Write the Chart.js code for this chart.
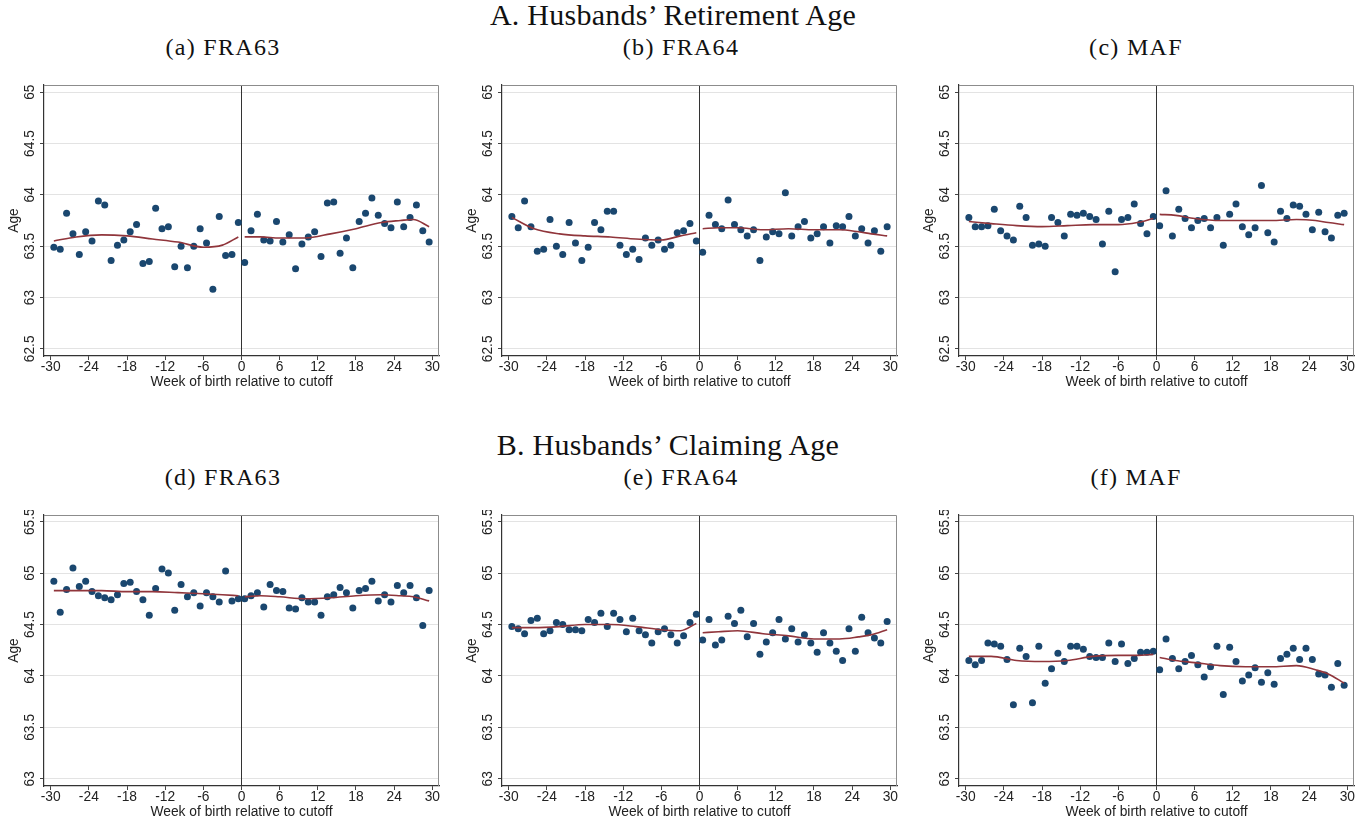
<!DOCTYPE html>
<html>
<head>
<meta charset="utf-8">
<script src="https://cdn.jsdelivr.net/npm/chart.js@4.4.1/dist/chart.umd.min.js"></script>
<style>
  body { margin: 0; background: #fff; width: 1372px; height: 824px; position: relative; overflow: hidden; }
  .ttl { position: absolute; font-family: "Liberation Serif", "Times New Roman", serif; color: #111;
         white-space: nowrap; transform: translateX(-50%); line-height: 1; }
  .big { font-size: 30px; letter-spacing: 0.25px; }
  .sub { font-size: 24px; letter-spacing: 1.3px; }
  canvas { position: absolute; }
</style>
</head>
<body>
<div class="ttl big" style="left:673px;top:0px">A. Husbands’ Retirement Age</div>
<div class="ttl sub" style="left:223px;top:35px">(a) FRA63</div>
<div class="ttl sub" style="left:681px;top:35px">(b) FRA64</div>
<div class="ttl sub" style="left:1136px;top:35px">(c) MAF</div>

<div class="ttl big" style="left:668px;top:430px">B. Husbands’ Claiming Age</div>
<div class="ttl sub" style="left:223px;top:465px">(d) FRA63</div>
<div class="ttl sub" style="left:681px;top:465px">(e) FRA64</div>
<div class="ttl sub" style="left:1136px;top:465px">(f) MAF</div>

<canvas id="pA" width="445" height="310" style="left:0px;top:80px"></canvas>
<canvas id="pB" width="445" height="310" style="left:458px;top:80px"></canvas>
<canvas id="pC" width="445" height="310" style="left:915px;top:80px"></canvas>
<canvas id="pD" width="445" height="310" style="left:0px;top:510px"></canvas>
<canvas id="pE" width="445" height="310" style="left:458px;top:510px"></canvas>
<canvas id="pF" width="445" height="310" style="left:915px;top:510px"></canvas>

<script>
// ===== DATA =====
const WEEKS = [-29.5, -28.5, -27.5, -26.5, -25.5, -24.5, -23.5, -22.5, -21.5, -20.5,
  -19.5, -18.5, -17.5, -16.5, -15.5, -14.5, -13.5, -12.5, -11.5, -10.5,
  -9.5, -8.5, -7.5, -6.5, -5.5, -4.5, -3.5, -2.5, -1.5, -0.5,
  0.5, 1.5, 2.5, 3.5, 4.5, 5.5, 6.5, 7.5, 8.5, 9.5,
  10.5, 11.5, 12.5, 13.5, 14.5, 15.5, 16.5, 17.5, 18.5, 19.5,
  20.5, 21.5, 22.5, 23.5, 24.5, 25.5, 26.5, 27.5, 28.5, 29.5];
const FIT_X_LEFT = [-29.5, -26, -22, -18, -14, -10, -6, -3, -0.5];
const FIT_X_RIGHT = [0.5, 3, 6, 10, 14, 18, 22, 25, 27, 29.5];
const CUTOFF = 0;

const X_TICKS = [-30, -24, -18, -12, -6, 0, 6, 12, 18, 24, 30];
const Y_TICKS_TOP = [62.5, 63, 63.5, 64, 64.5, 65];
const Y_TICKS_BOTTOM = [63, 63.5, 64, 64.5, 65, 65.5];

// A. retirement age
const RET_FRA63 = [63.49, 63.47, 63.82, 63.62, 63.42, 63.64, 63.55, 63.94, 63.90, 63.36,
  63.51, 63.56, 63.64, 63.71, 63.33, 63.35, 63.87, 63.67, 63.69, 63.30,
  63.50, 63.29, 63.50, 63.67, 63.53, 63.08, 63.79, 63.41, 63.42, 63.73,
  63.34, 63.65, 63.81, 63.56, 63.55, 63.74, 63.54, 63.61, 63.28, 63.52,
  63.59, 63.64, 63.40, 63.92, 63.93, 63.43, 63.58, 63.29, 63.74, 63.82,
  63.97, 63.80, 63.72, 63.68, 63.93, 63.69, 63.78, 63.90, 63.65, 63.54];
const RET_FRA63_FIT_L = [63.55, 63.59, 63.61, 63.60, 63.57, 63.54, 63.49, 63.51, 63.59];
const RET_FRA63_FIT_R = [63.59, 63.59, 63.58, 63.58, 63.62, 63.67, 63.73, 63.75, 63.76, 63.69];

const RET_FRA64 = [63.79, 63.68, 63.94, 63.69, 63.45, 63.47, 63.76, 63.50, 63.42, 63.73,
  63.53, 63.36, 63.49, 63.73, 63.66, 63.84, 63.84, 63.51, 63.42, 63.47,
  63.37, 63.58, 63.51, 63.56, 63.47, 63.51, 63.63, 63.65, 63.72, 63.55,
  63.44, 63.80, 63.71, 63.67, 63.95, 63.71, 63.66, 63.60, 63.66, 63.36,
  63.59, 63.64, 63.62, 64.02, 63.60, 63.69, 63.74, 63.58, 63.62, 63.69,
  63.53, 63.70, 63.69, 63.79, 63.60, 63.67, 63.53, 63.65, 63.45, 63.69];
const RET_FRA64_FIT_L = [63.78, 63.67, 63.62, 63.60, 63.59, 63.57, 63.56, 63.60, 63.63];
const RET_FRA64_FIT_R = [63.67, 63.68, 63.68, 63.66, 63.67, 63.66, 63.66, 63.64, 63.62, 63.60];

const RET_MAF = [63.78, 63.69, 63.69, 63.70, 63.86, 63.65, 63.60, 63.56, 63.89, 63.78,
  63.51, 63.52, 63.50, 63.78, 63.73, 63.60, 63.81, 63.80, 63.82, 63.79,
  63.76, 63.52, 63.84, 63.25, 63.76, 63.78, 63.91, 63.72, 63.62, 63.79,
  63.70, 64.04, 63.60, 63.86, 63.77, 63.68, 63.75, 63.77, 63.68, 63.78,
  63.51, 63.81, 63.91, 63.69, 63.61, 63.68, 64.09, 63.63, 63.54, 63.84,
  63.77, 63.90, 63.89, 63.81, 63.66, 63.83, 63.64, 63.58, 63.80, 63.82];
const RET_MAF_FIT_L = [63.74, 63.72, 63.70, 63.69, 63.70, 63.71, 63.71, 63.73, 63.77];
const RET_MAF_FIT_R = [63.81, 63.80, 63.77, 63.75, 63.75, 63.75, 63.76, 63.75, 63.73, 63.71];

// B. claiming age
const CLAIM_FRA63 = [64.92, 64.62, 64.84, 65.05, 64.87, 64.92, 64.82, 64.78, 64.76, 64.74,
  64.79, 64.90, 64.91, 64.82, 64.74, 64.59, 64.85, 65.04, 65.00, 64.64,
  64.89, 64.77, 64.81, 64.68, 64.81, 64.77, 64.72, 65.02, 64.73, 64.75,
  64.75, 64.78, 64.81, 64.67, 64.89, 64.83, 64.82, 64.66, 64.65, 64.76,
  64.72, 64.72, 64.59, 64.77, 64.79, 64.86, 64.81, 64.66, 64.83, 64.85,
  64.92, 64.73, 64.79, 64.72, 64.88, 64.81, 64.88, 64.76, 64.49, 64.83];
const CLAIM_FRA63_FIT_L = [64.83, 64.83, 64.83, 64.82, 64.82, 64.81, 64.80, 64.79, 64.78];
const CLAIM_FRA63_FIT_R = [64.77, 64.78, 64.77, 64.75, 64.76, 64.78, 64.79, 64.78, 64.77, 64.73];

const CLAIM_FRA64 = [64.48, 64.46, 64.41, 64.54, 64.56, 64.41, 64.44, 64.52, 64.50, 64.45,
  64.45, 64.44, 64.55, 64.52, 64.61, 64.48, 64.61, 64.55, 64.43, 64.56,
  64.44, 64.40, 64.32, 64.43, 64.46, 64.40, 64.32, 64.39, 64.52, 64.60,
  64.35, 64.55, 64.30, 64.35, 64.58, 64.51, 64.64, 64.38, 64.51, 64.21,
  64.33, 64.42, 64.55, 64.36, 64.46, 64.33, 64.40, 64.32, 64.23, 64.42,
  64.32, 64.24, 64.15, 64.46, 64.24, 64.57, 64.42, 64.37, 64.32, 64.53];
const CLAIM_FRA64_FIT_L = [64.47, 64.47, 64.48, 64.50, 64.50, 64.48, 64.45, 64.44, 64.51];
const CLAIM_FRA64_FIT_R = [64.42, 64.43, 64.44, 64.41, 64.39, 64.36, 64.36, 64.38, 64.40, 64.45];

const CLAIM_MAF = [64.15, 64.11, 64.15, 64.32, 64.31, 64.29, 64.16, 63.72, 64.27, 64.19,
  63.74, 64.29, 63.93, 64.07, 64.22, 64.14, 64.29, 64.29, 64.26, 64.19,
  64.18, 64.18, 64.32, 64.14, 64.31, 64.12, 64.17, 64.23, 64.23, 64.24,
  64.06, 64.36, 64.17, 64.07, 64.14, 64.20, 64.11, 63.99, 64.09, 64.29,
  63.82, 64.28, 64.14, 63.95, 64.01, 64.08, 63.94, 64.03, 63.92, 64.17,
  64.21, 64.27, 64.16, 64.27, 64.16, 64.02, 64.01, 63.89, 64.12, 63.91];
const CLAIM_MAF_FIT_L = [64.19, 64.19, 64.15, 64.14, 64.15, 64.19, 64.20, 64.20, 64.21];
const CLAIM_MAF_FIT_R = [64.18, 64.15, 64.13, 64.10, 64.09, 64.09, 64.10, 64.06, 64.02, 63.93];

// ===== STYLE =====
const NAVY = "#1a476f";
const MAROON = "#90353b";
const SANS = '"Liberation Sans", Arial, sans-serif';
Chart.defaults.font.family = SANS;
Chart.defaults.font.size = 13.8;
Chart.defaults.color = "#222";

const xy = (xs, ys) => xs.map((x, i) => ({ x, y: ys[i] }));

// gray frame on top / right of plot region
const framePlugin = {
  id: "frame",
  afterDraw(chart) {
    const { ctx, chartArea: a } = chart;
    ctx.save();
    ctx.strokeStyle = "#8c8c8c";
    ctx.lineWidth = 1;
    ctx.beginPath();
    ctx.moveTo(a.left, a.top + 0.5);
    ctx.lineTo(a.right - 0.5, a.top + 0.5);
    ctx.lineTo(a.right - 0.5, a.bottom);
    ctx.stroke();
    ctx.restore();
  }
};

function makePanel(id, yTicks, yMin, yMax, values, fitL, fitR) {
  const fitStyle = {
    showLine: true, borderColor: MAROON, borderWidth: 1.6, pointRadius: 0,
    cubicInterpolationMode: "monotone", order: 0
  };
  return new Chart(document.getElementById(id), {
    type: "scatter",
    data: {
      datasets: [
        { data: [{ x: CUTOFF, y: yMin }, { x: CUTOFF, y: yMax }], showLine: true,
          borderColor: "#333", borderWidth: 1, pointRadius: 0, order: 2 },
        { data: xy(WEEKS, values), backgroundColor: NAVY, borderWidth: 0,
          pointRadius: 3.5, order: 1 },
        { data: xy(FIT_X_LEFT, fitL), ...fitStyle },
        { data: xy(FIT_X_RIGHT, fitR), ...fitStyle }
      ]
    },
    options: {
      responsive: false,
      animation: false,
      devicePixelRatio: 1,
      layout: { padding: { left: 6, top: 5, right: 6, bottom: 0 } },
      plugins: { legend: { display: false }, tooltip: { enabled: false } },
      scales: {
        x: {
          type: "linear", min: -31.05, max: 31.05,
          afterBuildTicks: s => { s.ticks = X_TICKS.map(v => ({ value: v })); },
          afterFit: s => { s.height = 34; },
          grid: { drawOnChartArea: false, drawTicks: true, tickLength: 4, tickColor: "#444" },
          border: { display: true, color: "#333", width: 1.2 },
          ticks: { padding: -1, maxRotation: 0, autoSkip: false, callback: v => String(v) },
          title: { display: true, text: "Week of birth relative to cutoff", padding: 0 }
        },
        y: {
          type: "linear", min: yMin, max: yMax,
          afterBuildTicks: s => { s.ticks = yTicks.map(v => ({ value: v })); },
          afterFit: s => { s.width = 38; },
          grid: { color: "#e3e3e3", lineWidth: 1, drawTicks: true, tickLength: 4, tickColor: "#444" },
          border: { display: true, color: "#333", width: 1.2 },
          ticks: { padding: -4, minRotation: 90, maxRotation: 90, crossAlign: "center",
                   autoSkip: false, callback: v => String(v) },
          title: { display: true, text: "Age", padding: 0 }
        }
      }
    },
    plugins: [framePlugin]
  });
}

makePanel("pA", Y_TICKS_TOP, 62.43, 65.07, RET_FRA63, RET_FRA63_FIT_L, RET_FRA63_FIT_R);
makePanel("pB", Y_TICKS_TOP, 62.43, 65.07, RET_FRA64, RET_FRA64_FIT_L, RET_FRA64_FIT_R);
makePanel("pC", Y_TICKS_TOP, 62.43, 65.07, RET_MAF, RET_MAF_FIT_L, RET_MAF_FIT_R);
makePanel("pD", Y_TICKS_BOTTOM, 62.93, 65.565, CLAIM_FRA63, CLAIM_FRA63_FIT_L, CLAIM_FRA63_FIT_R);
makePanel("pE", Y_TICKS_BOTTOM, 62.93, 65.565, CLAIM_FRA64, CLAIM_FRA64_FIT_L, CLAIM_FRA64_FIT_R);
makePanel("pF", Y_TICKS_BOTTOM, 62.93, 65.565, CLAIM_MAF, CLAIM_MAF_FIT_L, CLAIM_MAF_FIT_R);
</script>
</body>
</html>
